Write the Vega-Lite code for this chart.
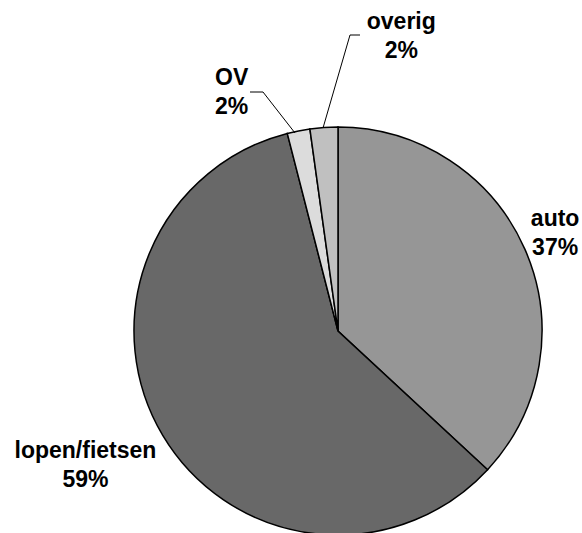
{
  "$schema": "https://vega.github.io/schema/vega-lite/v6.json",
  "autosize": "none",
  "padding": {"left": 94, "top": 129, "right": 0, "bottom": 0},
  "width": 488,
  "height": 404,
  "background": "white",
  "view": {"stroke": null},
  "datasets": {
    "shares": [
      {"category": "auto", "value": 36.9, "order": 1, "label": "auto\n37%"},
      {"category": "lopen/fietsen", "value": 59.1, "order": 2, "label": "lopen/fietsen\n59%"},
      {"category": "OV", "value": 1.8, "order": 3, "label": "OV\n2%"},
      {"category": "overig", "value": 2.2, "order": 4, "label": "overig\n2%"}
    ],
    "leaders": [
      {"category": "OV", "i": 1, "px": -88, "py": 239},
      {"category": "OV", "i": 2, "px": -75, "py": 239},
      {"category": "OV", "i": 3, "px": -43, "py": 198},
      {"category": "overig", "i": 1, "px": 22, "py": 296},
      {"category": "overig", "i": 2, "px": 12, "py": 296},
      {"category": "overig", "i": 3, "px": -15, "py": 203}
    ]
  },
  "layer": [
    {
      "data": {"name": "shares"},
      "mark": {"type": "arc", "outerRadius": 204, "stroke": "black", "strokeWidth": 1.5},
      "encoding": {
        "theta": {"field": "value", "type": "quantitative", "stack": true},
        "order": {"field": "order", "type": "quantitative"},
        "color": {
          "field": "category", "type": "nominal", "legend": null,
          "scale": {"domain": ["auto", "lopen/fietsen", "OV", "overig"], "range": ["#969696", "#686868", "#dcdcdc", "#c0c0c0"]}
        }
      }
    },
    {
      "data": {"name": "leaders"},
      "mark": {"type": "line", "stroke": "black", "strokeWidth": 1},
      "encoding": {
        "x": {"field": "px", "type": "quantitative", "axis": null, "scale": {"domain": [-244, 244], "nice": false, "zero": false}},
        "y": {"field": "py", "type": "quantitative", "axis": null, "scale": {"domain": [-202, 202], "nice": false, "zero": false}},
        "detail": {"field": "category"},
        "order": {"field": "i", "type": "quantitative"}
      }
    },
    {
      "data": {"name": "shares"},
      "transform": [
        {"stack": "value", "groupby": [], "sort": [{"field": "order", "order": "ascending"}], "as": ["v0", "v1"]},
        {"calculate": "(datum.v0 + datum.v1) / 2", "as": "mid"}
      ],
      "layer": [
        {
          "transform": [{"filter": "datum.category == 'auto'"}],
          "mark": {"type": "text", "radius": 238, "dx": -1, "dy": -17, "font": "Liberation Sans", "fontWeight": "bold", "fontSize": 23, "lineHeight": 29, "lineBreak": "\n", "align": "center", "baseline": "middle", "color": "black"}
        },
        {
          "transform": [{"filter": "datum.category == 'lopen/fietsen'"}],
          "mark": {"type": "text", "radius": 287, "dx": -6, "dy": -27, "font": "Liberation Sans", "fontWeight": "bold", "fontSize": 23, "lineHeight": 29, "lineBreak": "\n", "align": "center", "baseline": "middle", "color": "black"}
        },
        {
          "transform": [{"filter": "datum.category == 'OV'"}],
          "mark": {"type": "text", "radius": 250, "dx": -58, "dy": -8, "font": "Liberation Sans", "fontWeight": "bold", "fontSize": 23, "lineHeight": 29, "lineBreak": "\n", "align": "center", "baseline": "middle", "color": "black"}
        },
        {
          "transform": [{"filter": "datum.category == 'overig'"}],
          "mark": {"type": "text", "radius": 300, "dx": 84, "dy": -10, "font": "Liberation Sans", "fontWeight": "bold", "fontSize": 23, "lineHeight": 29, "lineBreak": "\n", "align": "center", "baseline": "middle", "color": "black"}
        }
      ],
      "encoding": {
        "theta": {"field": "mid", "type": "quantitative", "stack": null},
        "text": {"field": "label", "type": "nominal"}
      }
    }
  ]
}
